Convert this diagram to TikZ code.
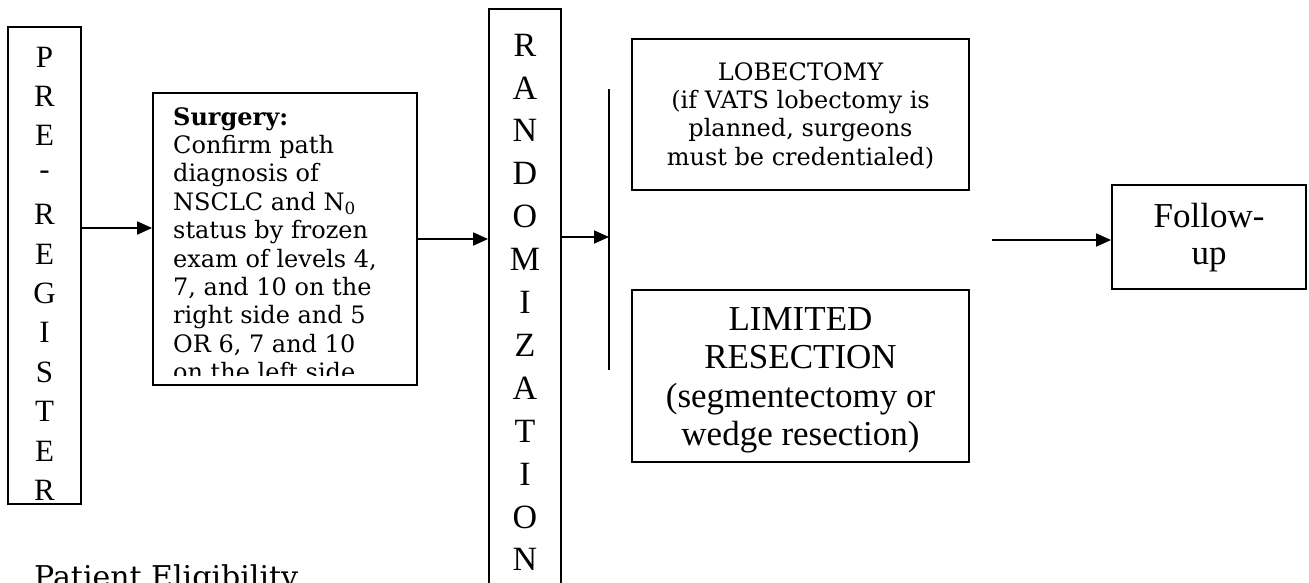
\documentclass[tikz,border=0pt]{standalone}
\usepackage{fontspec}
\setmainfont{Liberation Serif}
\newfontfamily\bookman{DejaVu Serif}
\usetikzlibrary{arrows.meta,calc}

\tikzset{
  box/.style={draw, line width=1.8pt, inner sep=0pt, fill=white},
  arr/.style={line width=1.8pt, -{Triangle[length=15pt,width=13pt]}},
  letter/.style={inner sep=0pt, font=\fontsize{31}{31}\selectfont},
  bigletter/.style={inner sep=0pt, font=\fontsize{34}{34}\selectfont},
  smalltxt/.style={inner sep=0pt, font=\bookman\fontsize{24}{28.4}\selectfont},
}

\begin{document}
\begin{tikzpicture}[x=1pt,y=-1pt]
    \useasboundingbox (0,0) rectangle (1309,582);

    % pre-registration column
    \node[box, minimum width=73pt, minimum height=477pt] (prereg) at (44.5,265.5) {};
    \foreach \c [count=\i] in {P,R,E,-,R,E,G,I,S,T,E,R} {
        \node[letter] (pre\i) at (44.5,{57+(\i-1)*39.4}) {\c};
    }
    \node[anchor=base west, inner sep=0pt, font=\bookman\fontsize{30}{30}\selectfont] (elig) at (34,587) {Patient Eligibility};

    % surgery box, text cut off at the bottom
    \node[box, minimum width=264pt, minimum height=292pt] (surgery) at (285,239) {};
    \begin{scope}
        \clip (surgery.north west) rectangle ([yshift=10pt]surgery.south east);
        % base anchor sits on the last line
        \node[smalltxt, anchor=base west, align=left] (surgtxt) at (173,380.6)
            {\textbf{Surgery:}\\Confirm path\\diagnosis of\\NSCLC and N\textsubscript{0}\\status by frozen\\exam of levels 4,\\7, and 10 on the\\right side and 5\\OR 6, 7 and 10\\on the left side.};
    \end{scope}

    % randomization column
    \node[box, minimum width=72pt, minimum height=611pt] (rand) at (525,314.5) {};
    \foreach \c [count=\i] in {R,A,N,D,O,M,I,Z,A,T,I,O,N} {
        \node[bigletter] (rnd\i) at (525,{45+(\i-1)*42.9}) {\c};
    }

    % split bar
    \coordinate (bartop) at (609,89);
    \coordinate (barbot) at (609,370);
    \coordinate (barmid) at (609,237);
    \draw[line width=1.8pt] (bartop) -- (barbot);

    % arms
    \node[box, minimum width=337pt, minimum height=151pt] (lobe) at (800.5,114.5) {};
    \node[smalltxt, anchor=base, align=center] (lobetxt) at (800.5,165.2)
        {LOBECTOMY\\(if VATS lobectomy is\\planned, surgeons\\must be credentialed)};
    \node[box, minimum width=337pt, minimum height=172pt] (limited) at (800.5,376) {};
    \node[inner sep=0pt, anchor=base, align=center, font=\fontsize{35}{38.5}\selectfont] (limtxt) at (800.5,445.5)
        {LIMITED\\RESECTION\\(segmentectomy or\\wedge resection)};

    % follow-up
    \node[box, minimum width=194pt, minimum height=104pt] (followup) at (1209,237) {};
    \node[inner sep=0pt, anchor=base, align=center, font=\fontsize{35}{37}\selectfont] (futxt) at (1209,264)
        {Follow-\\up};
    \coordinate (fustart) at (992,240);

    \draw[arr] ([yshift=37.5pt]prereg.east) -- ([yshift=11pt]surgery.west);
    \draw[arr] (surgery.east) -- (surgery.east -| rand.west);
    \draw[arr] (rand.east |- barmid) -- (barmid);
    \draw[arr] (fustart) -- (fustart -| followup.west);
\end{tikzpicture}
\end{document}
